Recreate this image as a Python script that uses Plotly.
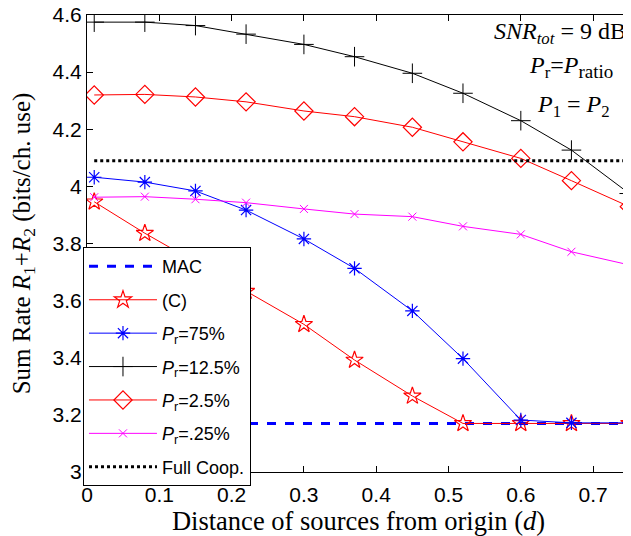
import plotly.graph_objects as go

d = [0.01, 0.08, 0.15, 0.22, 0.30, 0.37, 0.45, 0.52, 0.60, 0.67, 0.75]
mac_x = [0.0, 0.75]
mac_y = [3.17, 3.17]
coop_x = [0.01, 0.75]
coop_y = [4.09, 4.09]
c_vals = [3.946, 3.836, 3.735, 3.633, 3.517, 3.392, 3.266, 3.17, 3.17, 3.17, 3.17]
p75 = [4.032, 4.015, 3.984, 3.917, 3.816, 3.713, 3.564, 3.397, 3.182, 3.172, 3.172]
p125 = [4.575, 4.575, 4.563, 4.533, 4.497, 4.454, 4.396, 4.326, 4.230, 4.127, 3.975]
p25 = [4.320, 4.322, 4.313, 4.296, 4.264, 4.244, 4.207, 4.156, 4.098, 4.020, 3.929]
p025 = [3.962, 3.964, 3.955, 3.943, 3.921, 3.903, 3.894, 3.860, 3.832, 3.771, 3.725]

x_ticks = [0, 0.1, 0.2, 0.3, 0.4, 0.5, 0.6, 0.7]
x_tick_labels = ["0", "0.1", "0.2", "0.3", "0.4", "0.5", "0.6", "0.7"]
y_ticks = [3.0, 3.2, 3.4, 3.6, 3.8, 4.0, 4.2, 4.4, 4.6]
y_tick_labels = ["3", "3.2", "3.4", "3.6", "3.8", "4", "4.2", "4.4", "4.6"]

fig = go.Figure()
fig.add_trace(go.Scatter(x=mac_x, y=mac_y, mode="lines", name="MAC",
                         line=dict(color="#0000ff", width=3, dash="dash"),
                         legendgroup="a"))
fig.add_trace(go.Scatter(x=d, y=c_vals, mode="lines+markers", name="(C)",
                         line=dict(color="#ff0000", width=1),
                         marker=dict(symbol="star-open", size=13, color="#ff0000", line=dict(width=1.2)),
                         legendgroup="b"))
fig.add_trace(go.Scatter(x=d, y=p75, mode="lines+markers", name="<i>P</i><sub>r</sub>=75%",
                         line=dict(color="#0000ff", width=1),
                         marker=dict(symbol="asterisk-open", size=12, color="#0000ff", line=dict(width=1.2, color="#0000ff")),
                         legendgroup="c"))
fig.add_trace(go.Scatter(x=d, y=p125, mode="lines+markers", name="<i>P</i><sub>r</sub>=12.5%",
                         line=dict(color="#000000", width=1),
                         marker=dict(symbol="cross-thin-open", size=14, color="#000000", line=dict(width=1, color="#000000")),
                         legendgroup="d"))
fig.add_trace(go.Scatter(x=d, y=p25, mode="lines+markers", name="<i>P</i><sub>r</sub>=2.5%",
                         line=dict(color="#ff0000", width=1),
                         marker=dict(symbol="diamond-open", size=14, color="#ff0000", line=dict(width=1.2)),
                         legendgroup="e"))
fig.add_trace(go.Scatter(x=d, y=p025, mode="lines+markers", name="<i>P</i><sub>r</sub>=.25%",
                         line=dict(color="#ff00ff", width=1),
                         marker=dict(symbol="x-thin-open", size=8, color="#ff00ff", line=dict(width=1, color="#ff00ff")),
                         legendgroup="f"))
fig.add_trace(go.Scatter(x=coop_x, y=coop_y, mode="lines", name="Full Coop.",
                         line=dict(color="#000000", width=3, dash="dot"),
                         legendgroup="g"))

axis_common = dict(showgrid=False, zeroline=False, ticks="inside", ticklen=6,
                   tickcolor="black", linecolor="black", linewidth=1, mirror="ticks",
                   showline=True, automargin=False, ticklabeloverflow="allow",
                   tickfont=dict(family="Liberation Sans, Arial", size=21, color="black"))

fig.update_xaxes(range=[0, 0.751], tickvals=x_ticks, ticktext=x_tick_labels,
                 ticklabelstandoff=4,
                 title=dict(text="Distance of sources from origin (<i>d</i>)",
                            font=dict(family="Liberation Serif, Times New Roman", size=26.5, color="black"),
                            standoff=0),
                 **axis_common)
fig.update_yaxes(range=[3.0, 4.6], tickvals=y_ticks, ticktext=y_tick_labels,
                 title=dict(text="Sum Rate <i>R</i><sub>1</sub>+<i>R</i><sub>2</sub> (bits/ch. use)",
                            font=dict(family="Liberation Serif, Times New Roman", size=25, color="black"),
                            standoff=17),
                 **axis_common)

ann_font = dict(family="Liberation Serif, Times New Roman", size=24, color="black")
fig.add_annotation(x=0.9963, y=0.9606, xref="paper", yref="paper", xanchor="right", yanchor="middle",
                   text="<i>SNR</i><sub><i>tot</i></sub> = 9 dB", showarrow=False, font=ann_font)
fig.add_annotation(x=0.9724, y=0.8862, xref="paper", yref="paper", xanchor="right", yanchor="middle",
                   text="<i>P</i><sub>r</sub>=<i>P</i><sub><span style='font-size:19px'>ratio</span></sub>",
                   showarrow=False, font=ann_font)
fig.add_annotation(x=0.9669, y=0.801, xref="paper", yref="paper", xanchor="right", yanchor="middle",
                   text="<i>P</i><sub>1</sub> = <i>P</i><sub>2</sub>", showarrow=False, font=ann_font)

# page body has an 8px margin, so the figure is sized to end at the window edges
fig.update_layout(
    width=623, height=528,
    margin=dict(l=79, r=1, t=7, b=64, autoexpand=False),
    paper_bgcolor="white", plot_bgcolor="white",
    legend=dict(x=-0.0074, y=0.492, xanchor="left", yanchor="top",
                bgcolor="white", bordercolor="black", borderwidth=1,
                font=dict(family="Liberation Sans, Arial", size=18, color="black"),
                tracegroupgap=7, itemwidth=68, entrywidth=116, entrywidthmode="pixels"),
    showlegend=True,
)

fig.write_html("out.html")
